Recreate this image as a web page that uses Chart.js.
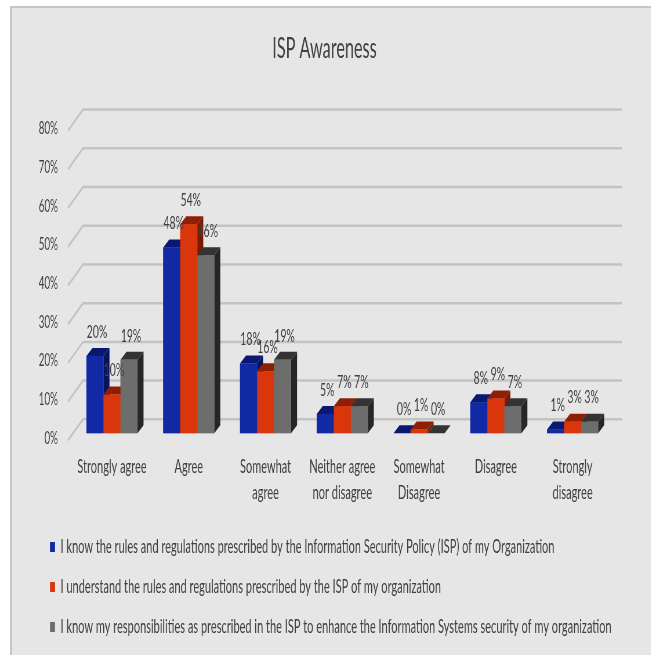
<!DOCTYPE html>
<html>
<head>
<meta charset="utf-8">
<script src="https://cdn.jsdelivr.net/npm/chart.js@4.4.0/dist/chart.umd.min.js"></script>
<style>
body { margin: 0; width: 651px; height: 655px; overflow: hidden; background: #fff; position: relative; }
#panel { position: absolute; left: 10px; top: 6px; width: 660px; height: 660px; background: #e6e6e6; border-left: 2px solid #c6c6c6; border-top: 2px solid #c6c6c6; }
#wrap { position: absolute; left: 0; top: 0; transform: scaleX(0.58); transform-origin: 0 0; }
</style>
</head>
<body>
<div id="panel"></div>
<div id="wrap"><canvas id="canvas"></canvas></div>
<script>
// data
const categories = [['Strongly agree'], ['Agree'], ['Somewhat', 'agree'], ['Neither agree', 'nor disagree'], ['Somewhat', 'Disagree'], ['Disagree'], ['Strongly', 'disagree']];
const knowRules = [20, 48, 18, 5, 0, 8, 1];
const understandRules = [10, 54, 16, 7, 1, 9, 3];
const knowResponsibilities = [19, 46, 19, 7, 0, 7, 3];
const seriesNames = [
    'I know the rules and regulations prescribed by the Information Security Policy (ISP) of my Organization',
    'I understand the rules and regulations prescribed by the ISP of my organization',
    'I know my responsibilities as prescribed in the ISP to enhance the Information Systems security of my organization'
];
const yMax = 80;
const yStep = 10;

// the reference text is squeezed sideways, so draw wide and squeeze the canvas
const S = 0.58;
const CW = Math.round(651 / S);
const px = v => v / S;

const faces = [
    { front: '#1129a3', top: '#0a1870', side: '#081360' },
    { front: '#d9360b', top: '#8e1f07', side: '#7a1a05' },
    { front: '#6d6d6d', top: '#333333', side: '#262626' }
];
const dx = px(6), dy = -8;
const FONT = 'Lato';
const legendPad = 21;

const threeD = {
    id: 'threeD',
    beforeDatasetsDraw(chart) {
        const { ctx, chartArea: a, scales: { y } } = chart;
        ctx.save();
        ctx.strokeStyle = '#c3c3c3';
        ctx.lineWidth = 2.5;
        y.ticks.forEach(t => {
            const yy = y.getPixelForValue(t.value);
            ctx.beginPath();
            ctx.moveTo(a.left - px(5.6), yy + 7);
            ctx.lineTo(a.left + px(9.4), yy - 14);
            ctx.lineTo(a.right + px(11), yy - 14);
            ctx.stroke();
        });
        ctx.restore();
    },
    afterDatasetsDraw(chart) {
        const ctx = chart.ctx;
        const metas = chart.data.datasets.map((d, i) => chart.getDatasetMeta(i));
        ctx.save();
        for (let c = 0; c < chart.data.labels.length; c++) {
            metas.forEach((m, i) => {
                const { x, y, base, width } = m.data[c].getProps(['x', 'y', 'base', 'width'], true);
                const x0 = x - width / 2, x1 = x + width / 2;
                const f = faces[i];
                ctx.fillStyle = f.side;
                ctx.beginPath();
                ctx.moveTo(x1, y); ctx.lineTo(x1 + dx, y + dy); ctx.lineTo(x1 + dx, base + dy); ctx.lineTo(x1, base);
                ctx.closePath(); ctx.fill();
                ctx.fillStyle = f.top;
                ctx.beginPath();
                ctx.moveTo(x0, y); ctx.lineTo(x1, y); ctx.lineTo(x1 + dx, y + dy); ctx.lineTo(x0 + dx, y + dy);
                ctx.closePath(); ctx.fill();
                ctx.fillStyle = f.front;
                ctx.fillRect(x0, y, width, base - y);
            });
        }
        ctx.font = '18px ' + FONT;
        ctx.fillStyle = '#404040';
        ctx.textAlign = 'center';
        ctx.textBaseline = 'middle';
        metas.forEach((m, i) => m.data.forEach((bar, c) => {
            ctx.fillText(chart.data.datasets[i].data[c] + '%', bar.x + px(2), bar.y - 24);
        }));
        ctx.restore();
    }
};

const canvas = document.getElementById('canvas');
canvas.width = CW;
canvas.height = 655;
const ctx = canvas.getContext('2d');

const myChart = new Chart(ctx, {
    type: 'bar',
    data: {
        labels: categories,
        datasets: [knowRules, understandRules, knowResponsibilities].map((d, i) => ({
            label: seriesNames[i],
            data: d,
            backgroundColor: faces[i].front,
            borderWidth: 0,
            categoryPercentage: 0.665,
            barPercentage: 1
        }))
    },
    options: {
        responsive: false,
        animation: false,
        layout: { padding: { left: px(50) - legendPad, right: CW - px(611), top: 0, bottom: 8.5 } },
        plugins: {
            title: {
                display: true,
                text: 'ISP Awareness',
                color: '#404040',
                font: { family: FONT, size: 28, weight: 'normal' },
                padding: { top: 32, bottom: 58 }
            },
            legend: {
                position: 'bottom',
                align: 'start',
                labels: {
                    color: '#404040',
                    font: { family: FONT, size: 19 },
                    padding: legendPad,
                    boxWidth: px(5),
                    boxHeight: 10
                }
            },
            tooltip: { enabled: false }
        },
        scales: {
            x: {
                grid: { display: false },
                border: { display: false },
                ticks: {
                    color: '#404040',
                    font: { family: FONT, size: 19, lineHeight: 26 / 19 },
                    padding: 13,
                    maxRotation: 0,
                    autoSkip: false
                },
                afterFit: s => { s.height -= 2.8; }
            },
            y: {
                min: 0,
                max: yMax,
                grid: { display: false, drawTicks: false },
                border: { display: false },
                ticks: {
                    stepSize: yStep,
                    color: '#404040',
                    font: { family: FONT, size: 17 },
                    padding: px(73.6 - 58),
                    labelOffset: 5,
                    callback: v => v + '%'
                },
                afterFit: s => { s.width = px(73.6) - (px(50) - legendPad); }
            }
        }
    },
    plugins: [threeD]
});
</script>
</body>
</html>
